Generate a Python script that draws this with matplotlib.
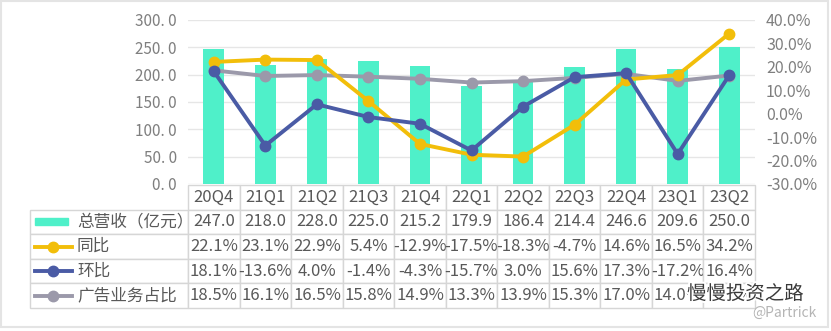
import matplotlib.pyplot as plt
import matplotlib.patheffects as pe
from matplotlib.patches import Rectangle
from matplotlib.lines import Line2D
from matplotlib.table import Table
import numpy as np

plt.rcParams['font.family'] = ['Noto Sans CJK SC', 'DejaVu Sans']

quarters = ['20Q4', '21Q1', '21Q2', '21Q3', '21Q4', '22Q1', '22Q2', '22Q3', '22Q4', '23Q1', '23Q2']
revenue = [247.0, 218.0, 228.0, 225.0, 215.2, 179.9, 186.4, 214.4, 246.6, 209.6, 250.0]
yoy = [22.1, 23.1, 22.9, 5.4, -12.9, -17.5, -18.3, -4.7, 14.6, 16.5, 34.2]
qoq = [18.1, -13.6, 4.0, -1.4, -4.3, -15.7, 3.0, 15.6, 17.3, -17.2, 16.4]
ad_share = [18.5, 16.1, 16.5, 15.8, 14.9, 13.3, 13.9, 15.3, 17.0, 14.0, 16.3]
row_labels = ['总营收（亿元）', '同比', '环比', '广告业务占比']

c_bar = '#4FF0C9'
c_yoy = '#F2BE0A'
c_qoq = '#4A5BA5'
c_ad = '#9B99AA'
c_text = '#595959'
c_tick = '#7F7F7F'

W, H = 831, 331
fig = plt.figure(figsize=(W / 100, H / 100), dpi=100)

# plot area in pixels: x 188..755, y 20..184
ax = fig.add_axes([188 / W, 1 - 184 / H, 567 / W, 164 / H])
ax2 = ax.twinx()

x = np.arange(len(quarters))
ax.bar(x, revenue, width=0.4, color=c_bar, zorder=2)
ax.set_xlim(-0.5, len(quarters) - 0.5)
ax.set_ylim(0, 300)
ax.set_yticks(np.arange(0, 301, 50))
ax.set_yticklabels(['%d. 0' % v for v in range(0, 301, 50)])
ax.grid(axis='y', color='#E6E6E6', linewidth=1, zorder=0)
ax.set_axisbelow(True)
ax.set_xticks([])
ax.tick_params(axis='y', length=0, pad=8, labelsize=11, labelcolor=c_tick)

for vals, col in [(ad_share, c_ad), (yoy, c_yoy), (qoq, c_qoq)]:
    ax2.plot(x, np.array(vals) / 100, color=col, linewidth=2.8, marker='o', markersize=7.5)
ax2.set_ylim(-0.3, 0.4)
ax2.set_yticks(np.arange(-0.3, 0.41, 0.1))
ax2.set_yticklabels(['%.1f%%' % v for v in np.arange(-30, 41, 10)])
ax2.tick_params(axis='y', length=0, pad=8, labelsize=11.5, labelcolor=c_tick)

for a in (ax, ax2):
    for s in a.spines.values():
        s.set_visible(False)

# data table below the plot
def ax_x(px):
    return (px - 188) / 567

def ax_y(py):
    return (184 - py) / 164

cell_text = [['%.1f' % v for v in revenue],
             ['%.1f%%' % v for v in yoy],
             ['%.1f%%' % v for v in qoq],
             ['%.1f%%' % v for v in ad_share]]

tbl = Table(ax, bbox=[ax_x(30), ax_y(308), ax_x(755) - ax_x(30), ax_y(185) - ax_y(308)])
tbl.auto_set_font_size(False)
label_w, col_w, row_h = 158, 51.5, 1
for j, q in enumerate(quarters):
    tbl.add_cell(0, j + 1, width=col_w, height=row_h, text=q, loc='center')
for i, row in enumerate(cell_text):
    tbl.add_cell(i + 1, 0, width=label_w, height=row_h, text='')
    for j, t in enumerate(row):
        tbl.add_cell(i + 1, j + 1, width=col_w, height=row_h, text=t, loc='center')
for cell in tbl.get_celld().values():
    cell.set_edgecolor('#D6D6D6')
    cell.set_linewidth(1)
    cell.get_text().set_color(c_text)
    cell.set_fontsize(12)
    cell.PAD = 0.02
ax.add_table(tbl)

# legend glyphs inside row-label cells
row_centers = [221.9, 246.5, 271.1, 295.7]
ax.add_patch(Rectangle((ax_x(35), ax_y(row_centers[0] + 3.5)), ax_x(68) - ax_x(35),
                       ax_y(row_centers[0] - 3.5) - ax_y(row_centers[0] + 3.5),
                       transform=ax.transAxes, color=c_bar, clip_on=False))
for yc, col in zip(row_centers[1:], [c_yoy, c_qoq, c_ad]):
    ax.add_line(Line2D([ax_x(35), ax_x(72)], [ax_y(yc), ax_y(yc)], transform=ax.transAxes,
                       color=col, linewidth=2.8, clip_on=False))
    ax.add_line(Line2D([ax_x(53.5)], [ax_y(yc)], transform=ax.transAxes, color=col,
                       marker='o', markersize=7.5, clip_on=False))
for yc, lab in zip(row_centers, row_labels):
    ax.text(ax_x(77), ax_y(yc), lab, transform=ax.transAxes, ha='left', va='center',
            fontsize=12, color=c_text)

# watermark
fig.text(687 / W, 1 - 294 / H, '慢慢投资之路', fontsize=14, color='#3A3A3A',
         ha='left', va='center',
         path_effects=[pe.withStroke(linewidth=3, foreground='white')])
fig.text(752 / W, 1 - 313 / H, '@Partrick', fontsize=10, color='#B5B5B5',
         ha='left', va='center')

# faint frame
fig.patches.append(Rectangle((0.001, 1 - 327 / H), 827 / W, 326 / H, transform=fig.transFigure,
                             fill=False, edgecolor='#E4E4E4', linewidth=1.5))

fig.savefig('out.png', dpi=100)
